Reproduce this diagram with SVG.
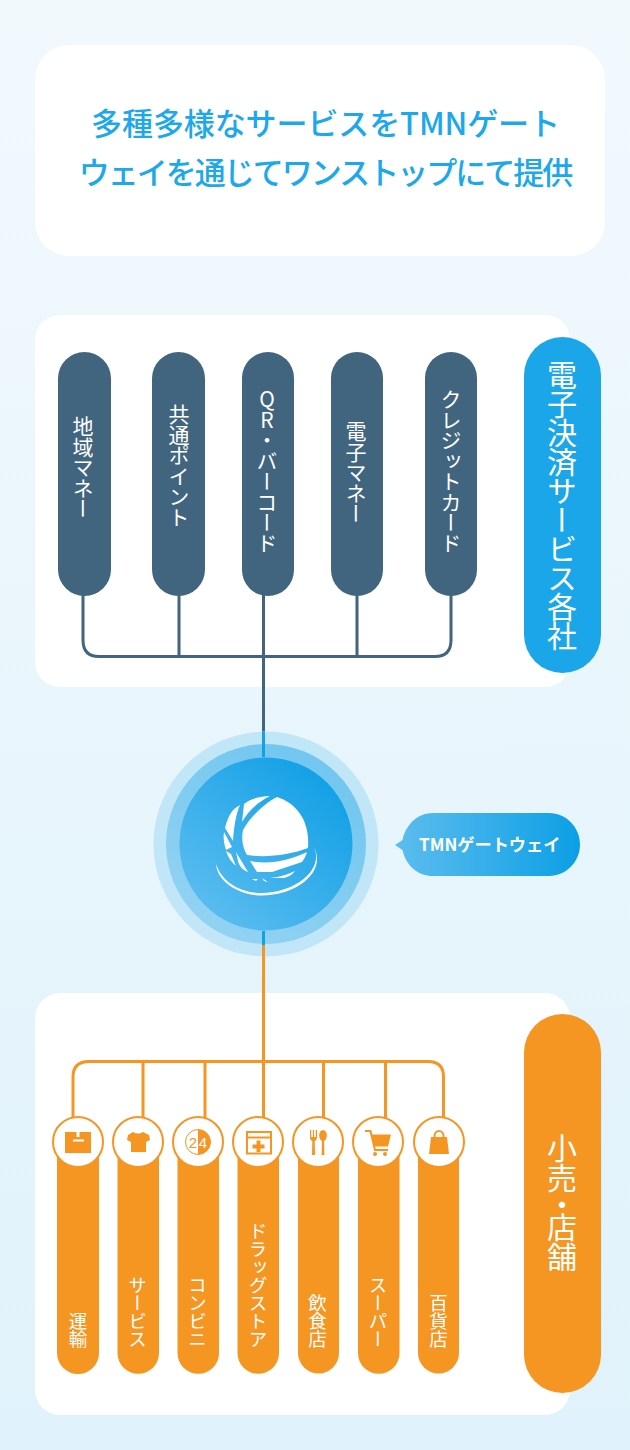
<svg xmlns="http://www.w3.org/2000/svg" width="630" height="1450" viewBox="0 0 630 1450">
<defs>
<linearGradient id="bg" x1="0" y1="0" x2="0" y2="1"><stop offset="0" stop-color="#f1f9fd"/><stop offset="1" stop-color="#e0f2fb"/></linearGradient>
<linearGradient id="core" x1="0.85" y1="0.1" x2="0.15" y2="0.9"><stop offset="0" stop-color="#12a0e6"/><stop offset="1" stop-color="#5abcef"/></linearGradient>
<linearGradient id="mid" x1="0.8" y1="0" x2="0.2" y2="1"><stop offset="0" stop-color="#6fc5ef"/><stop offset="1" stop-color="#94d3f3"/></linearGradient>
<linearGradient id="bub" x1="0" y1="0" x2="1" y2="0"><stop offset="0" stop-color="#5dbdee"/><stop offset="1" stop-color="#0c9fe5"/></linearGradient>
<style>
.v{font-family:"Noto Sans CJK JP","Noto Sans",sans-serif;writing-mode:vertical-rl;fill:#fff}
.d{font-size:21px;letter-spacing:-0.5px;text-orientation:upright}
.o{font-size:18.5px;letter-spacing:-0.5px;text-anchor:end}
.big{font-size:30px}
.pd{fill:#41657f}
.po{fill:#f59522}
.ld{fill:none;stroke:#41657f;stroke-width:3}
.lo{fill:none;stroke:#f59522;stroke-width:3}
.ring{fill:#fff;stroke:#f59522;stroke-width:2}
.if{fill:#f59522}
.is{fill:none;stroke:#f59522;stroke-width:2}
.t{font-family:"Noto Sans CJK JP","Noto Sans",sans-serif;font-size:31px;font-weight:500;fill:#1ca8ea;text-anchor:middle}
</style>
</defs>
<rect width="630" height="1450" fill="url(#bg)"/>
<g id="title"><rect x="35" y="45" width="570" height="211" rx="34" fill="#fff"/>
<text class="t" x="325.500" y="135" letter-spacing="-0.1">多種多様なサービスをTMNゲート</text>
<text class="t" x="325" y="184" letter-spacing="-2">ウェイを通じてワンストップにて提供</text></g>
<rect id="panel-top" x="35" y="315" width="535" height="372" rx="25" fill="#fff"/>
<rect id="panel-bottom" x="35" y="993" width="535" height="422" rx="25" fill="#fff"/>
<g id="connectors">
<path class="ld" d="M83 590V640Q83 656.500 99 656.500H435Q451 656.500 451 640V590M179 590V656M357 590V656M263.500 590V740"/>
<path class="lo" d="M263.500 950V1120M73 1125V1077Q73 1061.500 89 1061.500H428Q443.500 1061.500 443.500 1077V1125M143 1061V1125M205 1061V1125M323.500 1061V1125M385.500 1061V1125"/>
</g>
<g id="gateway">
<circle cx="266" cy="844" r="112.500" fill="#c1e6f8"/>
<circle cx="266" cy="844" r="100" fill="url(#mid)"/>
<path d="M263.500 732V757M263.500 931V945" stroke="#12a0e6" stroke-width="3"/>
<path d="M263.500 945V957" stroke="#f59522" stroke-width="3"/>
<circle cx="266" cy="844" r="86.500" fill="url(#core)"/>
<g fill="#fff">
<path d="M277 797C296 803 310 820 308 848C290 855 265 858 247 855C243 848 241 840 243 830C250 817 265 803 277 797Z"/>
<path d="M244 804C250 799 260 796 270 796C258 802 248 811 242 822Z"/>
<path d="M240 805C232 809 228 816 225 828L233 841C234 826 236 814 240 805Z"/>
<path d="M224 832L232 847L226 850C224 844 223 838 224 832Z"/>
<path d="M226 851L231 854L236 866C231 862 228 857 226 851Z"/>
<path d="M236 852L248 872C243 870 239 866 238 861Z"/>
<path d="M250 861C270 865 290 860 307 852C306 856 304 859 302 862L272 872H257Z"/>
<path d="M270 878C280 877 289 874 295 871C292 875 288 877 284 878Z"/>
<path d="M252 879L258 879L256 881ZM262 878L268 882L264 881Z"/>
<path d="M216 864C217 882 240 895.500 262 895.500C292 895.500 318 878 317 858C317 853 315 849 313 846C316 851 316.500 855 316 858C315 876 291 892.500 262 893C240 893 222 882 216 864Z"/>
</g>
</g>
<g id="bubble">
<path d="M395 845L402.500 840C406 824 418 813 433 813H549C566 813 580 827 580 844.500S566 876 549 876H433C418 876 406 866 402.500 850Z" fill="url(#bub)"/>
<text x="419" y="851" font-family="'Noto Sans CJK JP','Noto Sans',sans-serif" font-size="17.200px" font-weight="700" fill="#fff">TMNゲートウェイ</text>
</g>
<g id="pay-1"><rect class="pd" x="58" y="352" width="53" height="244" rx="26.500"/><text class="v d" x="83" y="416">地域マネー</text></g>
<g id="pay-2"><rect class="pd" x="152" y="352" width="53" height="244" rx="26.500"/><text class="v d" x="179" y="404">共通ポイント</text></g>
<g id="pay-3"><rect class="pd" x="242" y="352" width="52" height="244" rx="26"/><text class="v d" x="267" y="389">QR・バーコード</text></g>
<g id="pay-4"><rect class="pd" x="331" y="352" width="52" height="244" rx="26"/><text class="v d" x="356" y="421">電子マネー</text></g>
<g id="pay-5"><rect class="pd" x="425" y="352" width="52" height="244" rx="26"/><text class="v d" x="451" y="389">クレジットカード</text></g>
<g id="pay-label"><rect x="524" y="337" width="77" height="336" rx="38.500" fill="#1ba6e9"/><text class="v big" x="562" y="360" letter-spacing="-1">電子決済サービス各社</text></g>
<g id="retail-label"><rect x="524" y="1014" width="77" height="379" rx="38.500" fill="#f59522"/><text class="v big" x="562" y="1133 1163 1190 1212 1242">小売・店舗</text></g>
<g id="shop-1"><path class="po" d="M57 1142H99V1353A21 21 0 0 1 57 1353Z"/><circle class="ring" cx="78" cy="1142" r="25"/>
<path class="if" d="M65 1132H76.500V1137H79.500V1132H91V1153H65ZM73 1139.500V1141.500H84V1139.500Z" fill-rule="evenodd"/><text class="v o" x="78" y="1348">運輸</text></g>
<g id="shop-2"><path class="po" d="M117.500 1142H159V1353A20.750 20.750 0 0 1 117.500 1353Z"/><circle class="ring" cx="138" cy="1142" r="25"/>
<path class="if" d="M133 1132Q138 1135 143 1132L149 1135L150 1140L146 1142V1152H131V1142L127 1140L128 1135Z"/><text class="v o" x="137.500" y="1348">サービス</text></g>
<g id="shop-3"><path class="po" d="M177.500 1142H219V1353A20.750 20.750 0 0 1 177.500 1353Z"/><circle class="ring" cx="198" cy="1142" r="25"/>
<circle cx="198" cy="1142" r="12.500" fill="#fff" stroke="#f59522" stroke-width="1"/><path class="if" d="M198 1129.500A12.500 12.500 0 0 1 198 1154.500Z"/>
<text x="193" y="1147.500" font-family="'Liberation Sans',sans-serif" font-size="15px" fill="#f59522" text-anchor="middle">2</text><text x="203" y="1147.500" font-family="'Liberation Sans',sans-serif" font-size="15px" fill="#fff" text-anchor="middle">4</text><text class="v o" x="197.500" y="1348">コンビニ</text></g>
<g id="shop-4"><path class="po" d="M237.500 1142H279V1353A20.750 20.750 0 0 1 237.500 1353Z"/><circle class="ring" cx="258" cy="1142" r="25"/>
<path class="is" d="M247 1132H271V1153.500H247ZM247 1137.500H271"/><path class="if" d="M256.500 1140.500H260.500V1144.500H264.500V1148.500H260.500V1152H256.500V1148.500H252.500V1144.500H256.500Z"/><text class="v o" x="258" y="1348">ドラッグストア</text></g>
<g id="shop-5"><path class="po" d="M298 1142H339V1353A20.500 20.500 0 0 1 298 1353Z"/><circle class="ring" cx="318" cy="1142" r="25"/>
<path class="if" d="M310 1130H311.200V1137H312.900V1130H314.100V1137H315.800V1130H317V1137Q317 1140.500 314.700 1141L315 1155H312L312.300 1141Q310 1140.500 310 1137Z"/><ellipse class="if" cx="323" cy="1135.500" rx="3.800" ry="5.500"/><path class="if" d="M322 1140H324L324.400 1155H321.600Z"/><text class="v o" x="317.500" y="1348">飲食店</text></g>
<g id="shop-6"><path class="po" d="M358 1142H399.500V1353A20.750 20.750 0 0 1 358 1353Z"/><circle class="ring" cx="378" cy="1142" r="25"/>
<path class="is" d="M365 1131H370.500L375 1150H388"/><path class="if" d="M371.500 1134.500H391L388 1146.500H374Z"/><circle class="if" cx="375" cy="1154" r="2"/><circle class="if" cx="385" cy="1154" r="2"/><text class="v o" x="378" y="1348">スーパー</text></g>
<g id="shop-7"><path class="po" d="M418 1142H459V1353A20.500 20.500 0 0 1 418 1353Z"/><circle class="ring" cx="439" cy="1142" r="25"/>
<path class="if" d="M431 1137H447L449 1154H429Z"/><path class="is" d="M434.500 1138.500V1136A4.500 5 0 0 1 443.500 1136V1138.500" stroke-width="1.500"/><text class="v o" x="438.500" y="1348">百貨店</text></g>
</svg>
